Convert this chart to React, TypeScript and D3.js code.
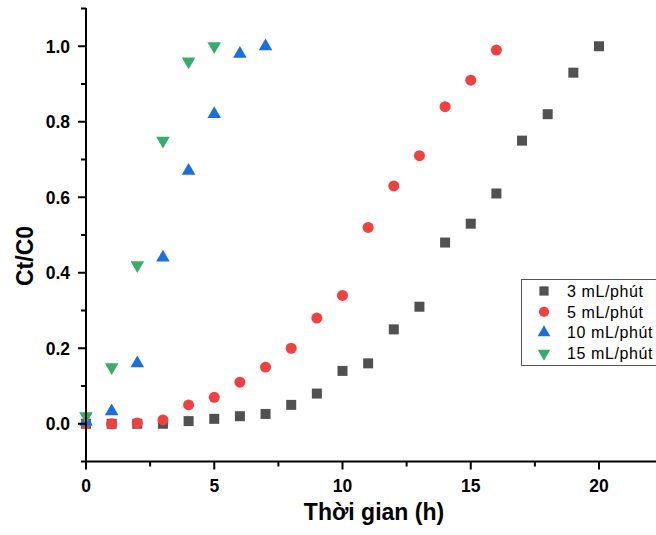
import React from "react";
import * as d3 from "d3";

const xs3 = [0, 1, 2, 3, 4, 5, 6, 7, 8, 9, 10, 11, 12, 13, 14, 15, 16, 17, 18, 19, 20];
const ys3 = [0, 0, 0, 0, 0.007, 0.013, 0.02, 0.026, 0.05, 0.08, 0.14, 0.16, 0.25, 0.31, 0.48, 0.53, 0.61, 0.75, 0.82, 0.93, 1.0];
const xs5 = [0, 1, 2, 3, 4, 5, 6, 7, 8, 9, 10, 11, 12, 13, 14, 15, 16];
const ys5 = [0, 0, 0.002, 0.01, 0.05, 0.07, 0.11, 0.15, 0.2, 0.28, 0.34, 0.52, 0.63, 0.71, 0.84, 0.91, 0.99];
const xs10 = [0, 1, 2, 3, 4, 5, 6, 7];
const ys10 = [0.005, 0.033, 0.16, 0.44, 0.67, 0.82, 0.98, 1.0];
const xs15 = [0, 1, 2, 3, 4, 5];
const ys15 = [0.02, 0.15, 0.42, 0.75, 0.96, 1.0];

const seriesNames = ["3 mL/phút", "5 mL/phút", "10 mL/phút", "15 mL/phút"];
const colors = ["#515151", "#F14040", "#1A6FDF", "#37AD6B"];
const xTicks = [0, 5, 10, 15, 20];
const yTicks = [0, 0.2, 0.4, 0.6, 0.8, 1.0];

const W = 656;
const H = 535;
const x0 = 86;
const pxPerX = 25.65;

export default function App() {
  const x = d3.scaleLinear().domain([0, 23]).range([x0, x0 + 23 * pxPerX]);
  const y = d3.scaleLinear().domain([-0.1, 1.1]).range([461.5, 8.5]);

  const xMinor = d3.range(0, 23, 2.5).filter((v) => !xTicks.includes(v));
  const yMinor = [-0.1, 0.1, 0.3, 0.5, 0.7, 0.9, 1.1];

  const series = [
    { xs: xs3, ys: ys3, sym: d3.symbolSquare, size: 100, rot: 0 },
    { xs: xs5, ys: ys5, sym: d3.symbolCircle, size: 95, rot: 0 },
    { xs: xs10, ys: ys10, sym: d3.symbolTriangle, size: 80, rot: 0 },
    { xs: xs15, ys: ys15, sym: d3.symbolTriangle, size: 80, rot: 180 },
  ];

  const pathFor = (s) => d3.symbol().type(s.sym).size(s.size)() as string;

  const axisY = y(-0.1);
  const font = "Arial, 'Liberation Sans', sans-serif";

  return (
    <svg width={W} height={H} style={{ position: "absolute", left: 0, top: 0, background: "#fff" }} fontFamily={font}>
      <rect x={0} y={0} width={W} height={H} fill="#fff" />
      {series.map((s, si) => (
        <g key={si} fill={colors[si]}>
          {s.xs.map((xv, i) => (
            <path
              key={i}
              d={pathFor(s)}
              transform={`translate(${x(xv)},${y(s.ys[i])}) rotate(${s.rot})`}
            />
          ))}
        </g>
      ))}
      <line x1={x0} y1={8} x2={x0} y2={axisY + 1} stroke="#000" strokeWidth={2} />
      <line x1={x0 - 1} y1={axisY} x2={W + 10} y2={axisY} stroke="#000" strokeWidth={2} />
      {yTicks.map((t) => (
        <g key={t}>
          <line x1={x0 - 8} x2={x0} y1={y(t)} y2={y(t)} stroke="#000" strokeWidth={2} />
          <text x={70} y={y(t)} dy="0.36em" textAnchor="end" fontSize={17.5} fontWeight="bold">
            {t.toFixed(1)}
          </text>
        </g>
      ))}
      {yMinor.map((t) => (
        <line key={t} x1={x0 - 5} x2={x0} y1={y(t)} y2={y(t)} stroke="#000" strokeWidth={2} />
      ))}
      {xTicks.map((t) => (
        <g key={t}>
          <line x1={x(t)} x2={x(t)} y1={axisY} y2={axisY + 8} stroke="#000" strokeWidth={2} />
          <text x={x(t)} y={491.5} textAnchor="middle" fontSize={17.5} fontWeight="bold">
            {t}
          </text>
        </g>
      ))}
      {xMinor.map((t) => (
        <line key={t} x1={x(t)} x2={x(t)} y1={axisY} y2={axisY + 5} stroke="#000" strokeWidth={2} />
      ))}
      <text x={374} y={520} textAnchor="middle" fontSize={23} fontWeight="bold">
        Thời gian (h)
      </text>
      <text
        transform={`translate(33,256) rotate(-90)`}
        textAnchor="middle"
        fontSize={23}
        fontWeight="bold"
      >
        Ct/C0
      </text>
      <rect x={521.5} y={279.5} width={160} height={86} fill="#fff" stroke="#555" strokeWidth={1} />
      {series.map((s, si) => {
        const ly = 291 + si * 20.8;
        return (
          <g key={si}>
            <path
              d={d3.symbol().type(s.sym).size(s.size * 0.85)() as string}
              transform={`translate(544,${ly}) rotate(${s.rot})`}
              fill={colors[si]}
            />
            <text x={567} y={ly} dy="0.36em" fontSize={16} letterSpacing={0.6}>
              {seriesNames[si]}
            </text>
          </g>
        );
      })}
    </svg>
  );
}
